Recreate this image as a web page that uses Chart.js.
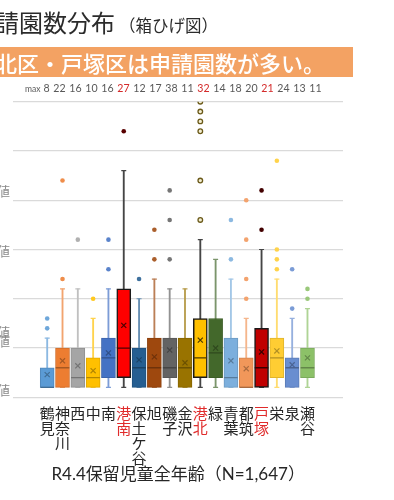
<!DOCTYPE html>
<html lang="ja">
<head>
<meta charset="utf-8">
<script src="https://cdn.jsdelivr.net/npm/chart.js@4.4.1/dist/chart.umd.min.js"></script>
<style>
  html, body { margin: 0; padding: 0; background: #fff; }
  #wrap { position: relative; width: 394px; height: 500px; overflow: hidden; font-family: "Noto Sans CJK JP", sans-serif; }
  #chart { position: absolute; left: 0; top: 0; }
  .title { position: absolute; left: -29px; top: 10px; font-size: 24px; line-height: 1; color: #2b2b2b; white-space: nowrap; }
  .title small { font-size: 16.5px; margin-left: 4px; }
  .banner { position: absolute; left: 0; top: 47px; width: 353px; height: 30px; background: #f3a263; overflow: hidden; }
  .banner span { position: absolute; left: -27px; top: 4px; font-size: 22px; line-height: 1; color: #fff; white-space: nowrap; font-weight: 500; }
  .maxrow { position: absolute; left: 25px; top: 83px; font-family: Lato, "Liberation Sans", sans-serif; font-size: 10.6px; line-height: 1; color: #595959; white-space: nowrap; word-spacing: 1px; }
  .maxrow .lbl { font-size: 8.5px; margin-right: 3px; }
  .maxrow .hl { color: #d42a2a; }
  .side { position: absolute; left: -70px; width: 80px; text-align: right; font-size: 13px; line-height: 1; color: #8a8a8a; white-space: nowrap; }
</style>
</head>
<body>
<div id="wrap">
  <canvas id="chart" width="394" height="500"></canvas>
  <div class="title">申請園数分布<small>（箱ひげ図）</small></div>
  <div class="banner"><span>港北区・戸塚区は申請園数が多い。</span></div>
  <div class="maxrow" id="maxrow"></div>
  <div class="side" style="top:184px">外れ値</div>
  <div class="side" style="top:244px">最大値</div>
  <div class="side" style="top:325px">中央値</div>
  <div class="side" style="top:334px">平均値</div>
  <div class="side" style="top:383px">最小値</div>
</div>
<script>
  "use strict";

  const categories = ["鶴見", "神奈川", "西", "中", "南", "港南", "保土ケ谷", "旭", "磯子", "金沢", "港北", "緑", "青葉", "都筑", "戸塚", "栄", "泉", "瀬谷"];
  const maxValues = [8, 22, 16, 10, 16, 27, 12, 17, 38, 11, 32, 14, 18, 20, 21, 24, 13, 11];
  const lowWhisker = [1, 1, 1, 1, 1, 1, 1, 1, 1, 1, 1, 1, 1, 1, 1, 1, 1, 1];
  const q1Values = [1, 1, 1, 1, 2, 2, 1, 1, 2, 1, 2, 2, 1, 1, 1, 2, 1, 2];
  const medianValues = [1, 3, 2, 2, 4, 5, 3, 3, 3, 3, 4, 4.5, 2, 1, 3, 4, 3, 3];
  const q3Values = [3, 5, 5, 4, 6, 11, 5, 6, 6, 6, 8, 8, 6, 4, 7, 6, 4, 5];
  const highWhisker = [6, 11, 11, 8, 11, 23, 10, 12, 11, 11, 16, 14, 12, 8, 15, 12, 8, 9];
  const meanValues = [2.3, 3.7, 3.2, 2.7, 4.5, 7.3, 3.8, 4.1, 4.8, 3.5, 5.8, 5, 3.7, 2.9, 4.6, 4.7, 3.3, 4];
  const outlierValues = [[7, 8], [12, 22], [16], [10], [13, 16], [27], [12], [14, 17], [14, 18, 21, 38], [], [18, 22, 27, 28, 29, 30, 32], [], [14, 18], [10, 12, 16, 20], [17, 21], [13, 14, 15, 24], [9, 13], [10, 11]];
  const highlighted = ["港南", "港北", "戸塚"];

  const boxFill = ["#5b9bd5", "#ed7d31", "#a5a5a5", "#ffc000", "#4472c4", "#ff0000", "#255e91", "#9e480e", "#636363", "#997300", "#ffc000", "#43682b", "#7cafdd", "#f1975a", "#c00000", "#ffcd33", "#698ed0", "#8cc168"];

  function mix(hex, target, t) {
    const a = parseInt(hex.slice(1), 16);
    const b = parseInt(target.slice(1), 16);
    const ch = (v, s) => (v >> s) & 255;
    const m = (s) => Math.round(ch(a, s) + (ch(b, s) - ch(a, s)) * t);
    return "rgb(" + m(16) + "," + m(8) + "," + m(0) + ")";
  }

  const isHl = (i) => highlighted.includes(categories[i]);
  const boxLine = boxFill.map((c, i) => (isHl(i) ? "#1a1a1a" : mix(c, "#000000", 0.12)));
  const whiskerColor = boxFill.map((c, i) => (isHl(i) ? "#454545" : mix(c, "#ffffff", 0.3)));
  const markColor = boxFill.map((c, i) => mix(c, "#000000", isHl(i) ? 0.7 : 0.3));
  const dotColor = boxFill.map((c, i) => (isHl(i) ? mix(c, "#000000", 0.65) : mix(c, "#ffffff", 0.12)));
  dotColor[10] = "#f3eed2";
  const dotBorder = dotColor.slice();
  dotBorder[10] = "#6b5a1a";

  // max row above the chart
  const maxRow = document.getElementById("maxrow");
  maxRow.innerHTML = '<span class="lbl">max</span>' + maxValues
    .map((v, i) => (isHl(i) ? '<span class="hl">' + v + "</span>" : String(v)))
    .join(" ");

  const byCat = (arr) => categories.map((c, i) => ({ x: i, y: arr[i] }));
  const capPoints = [].concat(byCat(lowWhisker), byCat(highWhisker));
  const outlierPoints = [];
  outlierValues.forEach((list, i) => list.forEach((v) => outlierPoints.push({ x: i, y: v })));

  const fontJa = "'Noto Sans CJK JP', sans-serif";

  new Chart(document.getElementById("chart"), {
    type: "bar",
    data: {
      datasets: [
        {
          label: "whisker",
          data: categories.map((c, i) => ({ x: i, y: [lowWhisker[i], highWhisker[i]] })),
          backgroundColor: whiskerColor,
          barThickness: 1.2,
          grouped: false,
          order: 6,
        },
        {
          type: "line",
          label: "caps",
          data: capPoints,
          showLine: false,
          pointStyle: "line",
          pointRadius: 2.5,
          pointBorderWidth: 1.2,
          pointBorderColor: (c) => whiskerColor[c.raw.x],
          order: 6,
        },
        {
          label: "box",
          data: categories.map((c, i) => ({ x: i, y: [q1Values[i], q3Values[i]] })),
          backgroundColor: boxFill,
          borderColor: boxLine,
          borderWidth: categories.map((c, i) => (isHl(i) ? 1.5 : 1)),
          borderSkipped: false,
          barThickness: 14,
          grouped: false,
          order: 5,
        },
        {
          type: "line",
          label: "median",
          data: byCat(medianValues),
          showLine: false,
          pointStyle: "line",
          pointRadius: 6.8,
          pointBorderWidth: 1.3,
          pointBorderColor: markColor,
          order: 3,
        },
        {
          type: "line",
          label: "mean",
          data: byCat(meanValues),
          showLine: false,
          pointStyle: "crossRot",
          pointRadius: 3.6,
          pointBorderWidth: 1.2,
          pointBorderColor: markColor,
          order: 2,
        },
        {
          type: "line",
          label: "outliers",
          data: outlierPoints,
          showLine: false,
          pointStyle: "circle",
          pointRadius: 2.3,
          pointBorderWidth: (c) => (c.raw.x === 10 ? 1.3 : 0),
          pointBackgroundColor: (c) => dotColor[c.raw.x],
          pointBorderColor: (c) => dotBorder[c.raw.x],
          order: 1,
        },
      ],
    },
    options: {
      responsive: false,
      animation: false,
      events: [],
      layout: { padding: { left: 13.3, right: 51, top: 101.7, bottom: 0 } },
      plugins: {
        legend: { display: false },
        tooltip: { enabled: false },
      },
      scales: {
        x: {
          type: "linear",
          min: -2.214,
          max: 19.32,
          offset: false,
          grid: { display: false },
          border: { display: false },
          afterBuildTicks: (scale) => {
            scale.ticks = categories.map((c, i) => ({ value: i }));
          },
          afterFit: (scale) => {
            scale.height = 102.7;
          },
          ticks: {
            autoSkip: false,
            maxRotation: 0,
            padding: 0,
            font: { family: fontJa, size: 15, lineHeight: 1 },
            color: (c) => (isHl(c.tick.value) ? "#e02b2b" : "#262626"),
            callback: (value) => categories[value].split(""),
          },
          title: {
            display: true,
            text: "R4.4保留児童全年齢（N=1,647）",
            font: { family: "Lato, " + fontJa, size: 17, lineHeight: 1.2 },
            color: "#262626",
            padding: { top: 0, bottom: 15 },
          },
        },
        y: {
          min: 0,
          max: 30,
          ticks: { display: false, stepSize: 5 },
          grid: { color: "#dadada", lineWidth: 1.3, drawTicks: false },
          border: { display: false },
          afterFit: (scale) => {
            scale.width = 0;
          },
        },
      },
    },
  });
</script>
</body>
</html>
